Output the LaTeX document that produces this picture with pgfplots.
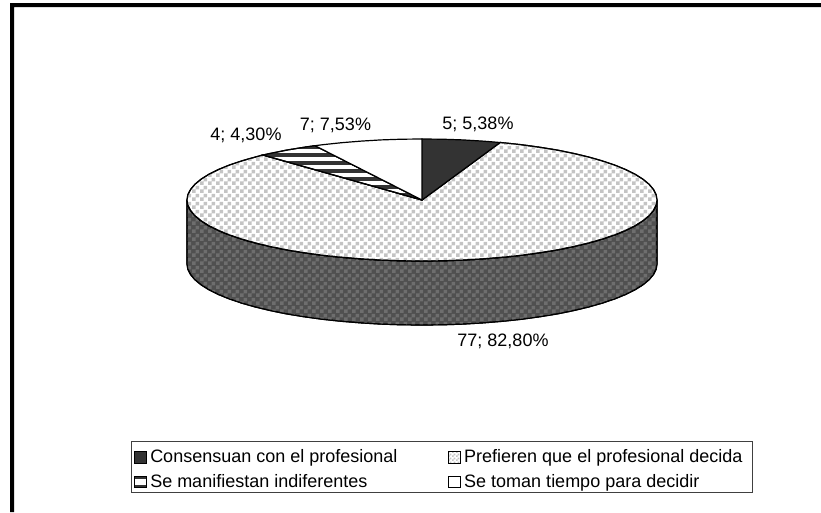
\documentclass[border=0pt]{standalone}
\usepackage{pgfplots}
\pgfplotsset{compat=1.18}
\usepackage{fontspec}
\setmainfont{Liberation Sans}
\usetikzlibrary{patterns}
\definecolor{darkslice}{HTML}{333333}
\definecolor{chklight}{HTML}{C4C4C4}
\definecolor{walla}{HTML}{505050}
\definecolor{wallb}{HTML}{6E6E6E}
\newcommand{\lowered}[1]{\raisebox{-2pt}[\height][\depth]{#1}}
\pgfdeclarepatternformonly{chk}{\pgfqpoint{0pt}{0pt}}{\pgfqpoint{8pt}{8pt}}{\pgfqpoint{8pt}{8pt}}{%
  \pgfpathrectangle{\pgfqpoint{0pt}{0pt}}{\pgfqpoint{4pt}{4pt}}%
  \pgfpathrectangle{\pgfqpoint{4pt}{4pt}}{\pgfqpoint{4pt}{4pt}}%
  \pgfusepath{fill}}
\pgfdeclarepatternformonly{chksmall}{\pgfqpoint{0pt}{0pt}}{\pgfqpoint{4pt}{4pt}}{\pgfqpoint{4pt}{4pt}}{%
  \pgfpathrectangle{\pgfqpoint{0pt}{0pt}}{\pgfqpoint{2pt}{2pt}}%
  \pgfpathrectangle{\pgfqpoint{2pt}{2pt}}{\pgfqpoint{2pt}{2pt}}%
  \pgfusepath{fill}}
\pgfdeclarepatternformonly{stripe}{\pgfqpoint{-1pt}{0pt}}{\pgfqpoint{9pt}{8pt}}{\pgfqpoint{8pt}{8pt}}{%
  \pgfpathrectangle{\pgfqpoint{-1pt}{3pt}}{\pgfqpoint{10pt}{4pt}}%
  \pgfusepath{fill}}
\pgfdeclarepatternformonly{stripeL}{\pgfqpoint{-1pt}{0pt}}{\pgfqpoint{9pt}{9pt}}{\pgfqpoint{8pt}{9pt}}{%
  \pgfpathrectangle{\pgfqpoint{-1pt}{6pt}}{\pgfqpoint{10pt}{3pt}}%
  \pgfusepath{fill}}
\begin{document}
\begin{tikzpicture}
\begin{axis}[
  width=821pt, height=512pt, scale only axis,
  xmin=0, xmax=821, ymin=0, ymax=512, y dir=reverse,
  hide axis, clip=false,
  legend columns=2,
  legend cell align=left,
  legend style={
    at={(axis cs:131,441)}, anchor=north west,
    draw=black!75, line width=0.9pt,
    font=\fontsize{18}{21}\selectfont,
    inner xsep=3pt, inner ysep=4pt,
    /tikz/every even column/.append style={column sep=49pt},
    row sep=6pt,
  },
  legend image code/.code={},
]
% frame
\addplot[fill=black, draw=none, forget plot] coordinates {(10,512)(14,512)(14,7)(821,7)(821,3)(10,3)} -- cycle;
% side wall
\addplot[preaction={fill=walla}, pattern=chk, pattern color=wallb, draw=black, line width=1.2pt, forget plot] coordinates {
(657,200)(656.1,205.3)(653.4,210.6)(649,215.8)(642.8,220.9)(635,225.8)(625.5,230.5)(614.5,235)(602,239.2)(588.2,243.1)(573.1,246.7)(556.8,250)(539.5,252.8)(521.3,255.3)(502.4,257.3)(482.8,258.9)(462.8,260.1)(442.5,260.8)(422,261)(401.5,260.8)(381.2,260.1)(361.2,258.9)(341.6,257.3)(322.7,255.3)(304.5,252.8)(287.2,250)(270.9,246.7)(255.8,243.1)(242,239.2)(229.5,235)(218.5,230.5)(209,225.8)(201.2,220.9)(195,215.8)(190.6,210.6)(187.9,205.3)(187,200)
(187,264)(187.9,269.3)(190.6,274.6)(195,279.8)(201.2,284.9)(209,289.8)(218.5,294.5)(229.5,299)(242,303.2)(255.8,307.1)(270.9,310.7)(287.2,314)(304.5,316.8)(322.7,319.3)(341.6,321.3)(361.2,322.9)(381.2,324.1)(401.5,324.8)(422,325)(442.5,324.8)(462.8,324.1)(482.8,322.9)(502.4,321.3)(521.3,319.3)(539.5,316.8)(556.8,314)(573.1,310.7)(588.2,307.1)(602,303.2)(614.5,299)(625.5,294.5)(635,289.8)(642.8,284.9)(649,279.8)(653.4,274.6)(656.1,269.3)(657,264)} -- cycle;
% Prefieren que el profesional decida: 77
\addplot[preaction={fill=white}, pattern=chk, pattern color=chklight, draw=black, line width=1.2pt, forget plot] coordinates {
(422,200)(500.1,142.5)(502.4,142.7)(521.3,144.7)(539.5,147.2)(556.8,150)(573.1,153.3)(588.2,156.9)(602,160.8)(614.5,165)(625.5,169.5)(635,174.2)(642.8,179.1)(649,184.2)(653.4,189.4)(656.1,194.7)(657,200)(656.1,205.3)(653.4,210.6)(649,215.8)(642.8,220.9)(635,225.8)(625.5,230.5)(614.5,235)(602,239.2)(588.2,243.1)(573.1,246.7)(556.8,250)(539.5,252.8)(521.3,255.3)(502.4,257.3)(482.8,258.9)(462.8,260.1)(442.5,260.8)(422,261)(401.5,260.8)(381.2,260.1)(361.2,258.9)(341.6,257.3)(322.7,255.3)(304.5,252.8)(287.2,250)(270.9,246.7)(255.8,243.1)(242,239.2)(229.5,235)(218.5,230.5)(209,225.8)(201.2,220.9)(195,215.8)(190.6,210.6)(187.9,205.3)(187,200)(187.9,194.7)(190.6,189.4)(195,184.2)(201.2,179.1)(209,174.2)(218.5,169.5)(229.5,165)(242,160.8)(255.8,156.9)(263,155)} -- cycle;
% Consensuan: 5
\addplot[fill=darkslice, draw=black, line width=1.2pt, forget plot] coordinates {
(422,200)(422,139)(442.5,139.2)(462.8,139.9)(482.8,141.1)(500.1,142.5)} -- cycle;
% Se manifiestan indiferentes: 4
\addplot[preaction={fill=white}, pattern=stripe, pattern color=darkslice, draw=black, line width=1.2pt, forget plot] coordinates {
(422,200)(263,155)(270.9,153.3)(287.2,150)(304.5,147.2)(315,145.7)} -- cycle;
% Se toman tiempo para decidir: 7
\addplot[fill=white, draw=black, line width=1.2pt, forget plot] coordinates {
(422,200)(315,145.7)(322.7,144.7)(341.6,142.7)(361.2,141.1)(381.2,139.9)(401.5,139.2)(422,139)} -- cycle;
% data labels
\node[font=\fontsize{18}{21}\selectfont] at (axis cs:478,124) {5; 5,38\%};
\node[font=\fontsize{18}{21}\selectfont] at (axis cs:246,135) {4; 4,30\%};
\node[font=\fontsize{18}{21}\selectfont] at (axis cs:335.5,125) {7; 7,53\%};
\node[font=\fontsize{18}{21}\selectfont] at (axis cs:503,341) {77; 82,80\%};
% legend
\addlegendimage{legend image code/.code={\draw[fill=darkslice, draw=black, line width=0.7pt] (0pt,-8.5pt) rectangle (11.5pt,3pt); \path (13pt,0pt);}}
\addlegendentry{\lowered{Consensuan con el profesional}}
\addlegendimage{legend image code/.code={\draw[preaction={fill=white}, pattern=chksmall, pattern color=chklight, draw=black, line width=0.7pt] (0pt,-8.5pt) rectangle (11.5pt,3pt); \path (13pt,0pt);}}
\addlegendentry{\lowered{Prefieren que el profesional decida}\hspace*{5pt}}
\addlegendimage{legend image code/.code={\draw[preaction={fill=white}, pattern=stripeL, pattern color=darkslice, draw=black, line width=0.7pt] (0pt,-8.5pt) rectangle (11.5pt,3pt); \path (13pt,0pt);}}
\addlegendentry{\lowered{Se manifiestan indiferentes}}
\addlegendimage{legend image code/.code={\draw[fill=white, draw=black, line width=0.7pt] (0pt,-8.5pt) rectangle (11.5pt,3pt); \path (13pt,0pt);}}
\addlegendentry{\lowered{Se toman tiempo para decidir}}
\end{axis}
\pgfresetboundingbox
\path[use as bounding box] (0,0) rectangle (821pt,512pt);
\end{tikzpicture}
\end{document}
